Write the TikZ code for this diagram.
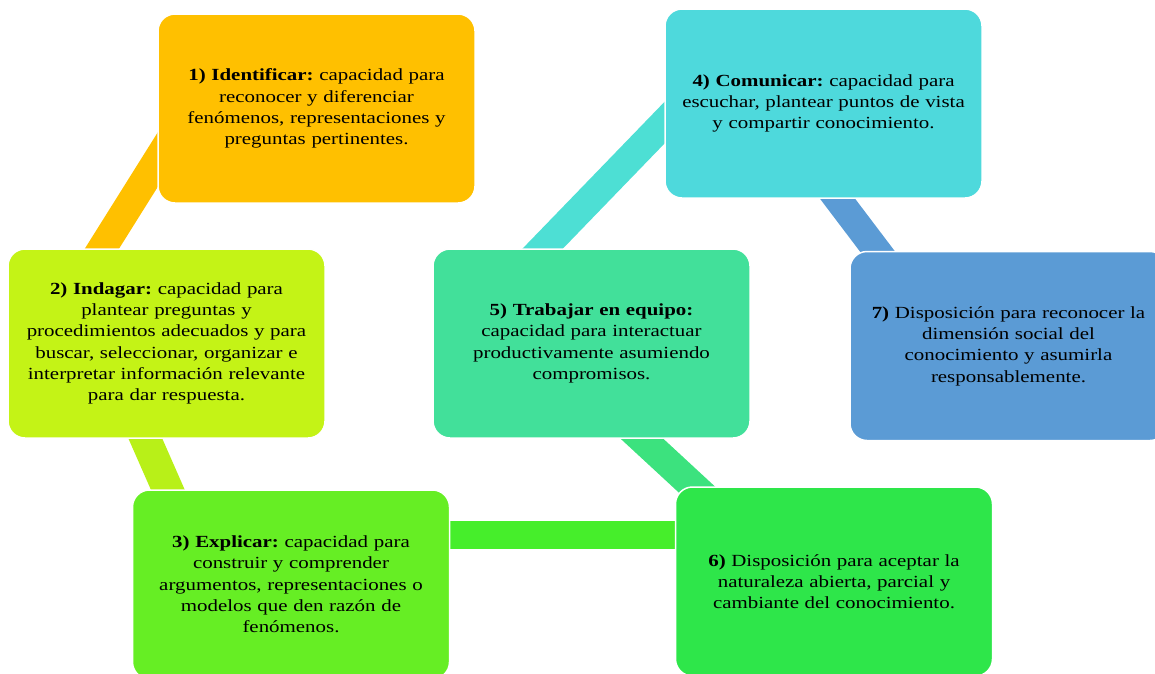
\documentclass[tikz,border=0pt]{standalone}
\usepackage{fontspec}
\setmainfont{Liberation Serif}[FakeStretch=1.23]
\usepackage{tikz}
\usetikzlibrary{calc,backgrounds}
\definecolor{naranja}{HTML}{FFC000}
\definecolor{lima}{HTML}{C4F316}
\definecolor{limab}{HTML}{B8F018}
\definecolor{verdec}{HTML}{66EE24}
\definecolor{verdeb}{HTML}{46EE2B}
\definecolor{verdem}{HTML}{2EE64A}
\definecolor{verdeag}{HTML}{3CE27E}
\definecolor{menta}{HTML}{42E09A}
\definecolor{cianb}{HTML}{4DDFD4}
\definecolor{cian}{HTML}{4ED9DC}
\definecolor{azul}{HTML}{5B9BD5}
\frenchspacing

\begin{document}
\begin{tikzpicture}[x=1pt,y=-1pt,
   caja/.style={draw=white,line width=1.5pt,rounded corners=17pt,minimum width=317pt,minimum height=189pt,
      text width=310pt,align=center,inner sep=0pt,font=\fontsize{17}{21.3}\selectfont},
   banda/.style={line width=29pt,line cap=butt}]
   \useasboundingbox (0,0) rectangle (1155,673);
   % cajas
   \node[caja,fill=naranja] (b1) at (316.5,108.5) {\textbf{1) Identificar:} capacidad para\\ reconocer y diferenciar\\ fenómenos, representaciones y\\ preguntas pertinentes.};
   \node[caja,fill=lima] (b2) at (166.5,343.5) {\textbf{2) Indagar:} capacidad para\\ plantear preguntas y\\ procedimientos adecuados y para\\ buscar, seleccionar, organizar e\\ interpretar información relevante\\ para dar respuesta.};
   \node[caja,fill=verdec] (b3) at (291,584.5) {\textbf{3) Explicar:} capacidad para\\ construir y comprender\\ argumentos, representaciones o\\ modelos que den razón de\\ fenómenos.};
   \node[caja,fill=cian] (b4) at (823.5,103.5) {\textbf{4) Comunicar:} capacidad para\\ escuchar, plantear puntos de vista\\ y compartir conocimiento.};
   \node[caja,fill=menta] (b5) at (591.5,343.5) {\textbf{5) Trabajar en equipo:}\\ capacidad para interactuar\\ productivamente asumiendo\\ compromisos.};
   \node[caja,fill=verdem] (b6) at (834,581.5) {\textbf{6)} Disposición para aceptar la\\ naturaleza abierta, parcial y\\ cambiante del conocimiento.};
   \node[caja,fill=azul] (b7) at (1008.5,346) {\textbf{7)} Disposición para reconocer la\\ dimensión social del\\ conocimiento y asumirla\\ responsablemente.};
   % bandas
   \begin{scope}[on background layer]
   \draw[banda,naranja] ($(b1.west)+(14,29.6)$) -- ($(b2.north)+(-79,23.4)$);
   \draw[banda,limab,line width=31pt] ($(b2.south)+(-29.4,-19)$) -- ($(b3.north)+(-114.6,20)$);
   \draw[banda,verdeb,line width=28pt] ($(b3.east)+(-10,-49.5)$) -- ($(b6.west)+(10,-46.5)$);
   \draw[banda,cianb] ($(b4.west)+(18.9,-0.1)$) -- ($(b5.north)+(-67.4,19.6)$);
   \draw[banda,azul,line width=28pt] ($(b4.south)+(1.1,-17.1)$) -- ($(b7.north)+(-117.1,19.1)$);
   \draw[banda,verdeag] ($(b5.south)+(36.3,-13.1)$) -- ($(b6.north)+(-122.6,16.7)$);
   \end{scope}
\end{tikzpicture}
\end{document}
